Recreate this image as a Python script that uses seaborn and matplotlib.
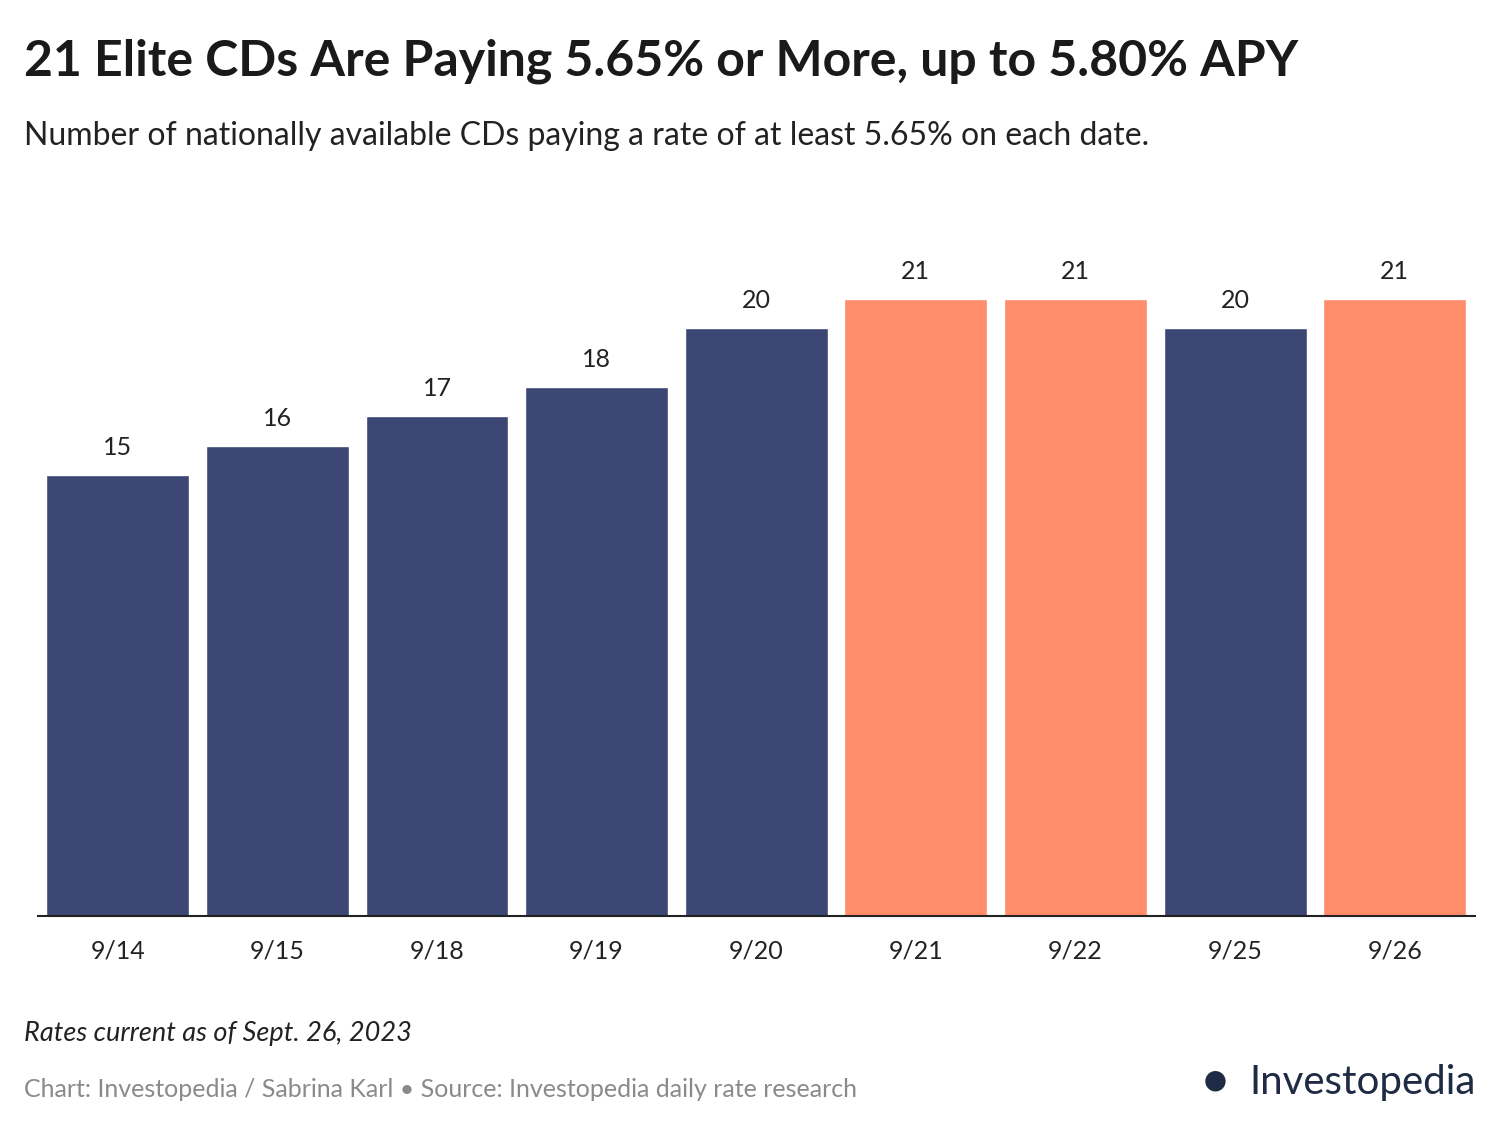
import matplotlib
matplotlib.use("Agg")
import matplotlib.pyplot as plt
import seaborn as sns
import pandas as pd

dates = ["9/14", "9/15", "9/18", "9/19", "9/20", "9/21", "9/22", "9/25", "9/26"]
counts = [15, 16, 17, 18, 20, 21, 21, 20, 21]
highlight = [False, False, False, False, False, True, True, False, True]

sns.set_theme(style="white")
plt.rcParams['font.family'] = ['Lato', 'DejaVu Sans']

df = pd.DataFrame({"date": dates, "count": counts,
                   "grp": ["hi" if h else "lo" for h in highlight]})

fig = plt.figure(figsize=(15, 11.37), dpi=100)
ax = fig.add_axes([0.0253, 0.1944, 0.9577, 0.5945])
sns.barplot(data=df, x="date", y="count", hue="grp", dodge=False,
            palette={"lo": "#3c4773", "hi": "#ff8c6b"}, width=0.895,
            saturation=1, legend=False, ax=ax)
ax.set_xlim(-0.5, 8.5)
ax.set_ylim(0, 23.0)
for i, v in enumerate(counts):
    ax.text(i, v + 0.55, str(v), ha="center", va="bottom", fontsize=18, color="#222222")
ax.set_xlabel("")
ax.set_ylabel("")
ax.set_yticks([])
for s in ["top", "right", "left"]:
    ax.spines[s].set_visible(False)
ax.spines["bottom"].set_color("#222222")
ax.spines["bottom"].set_linewidth(1.5)
ax.tick_params(axis="x", labelsize=18, colors="#222222", pad=17, length=0)

fig.text(0.016, 0.946, "21 Elite CDs Are Paying 5.65% or More, up to 5.80% APY",
         fontsize=36, fontweight="bold", color="#1a1a1a", va="center")
fig.text(0.016, 0.880, "Number of nationally available CDs paying a rate of at least 5.65% on each date.",
         fontsize=23, color="#222222", va="center")
fig.text(0.016, 0.091, "Rates current as of Sept. 26, 2023", fontsize=19.5,
         style="italic", color="#222222", va="center")
fig.text(0.016, 0.042, "Chart: Investopedia / Sabrina Karl \u2022 Source: Investopedia daily rate research",
         fontsize=18, color="#8a8a8a", va="center")
fig.text(0.984, 0.048, "Investopedia", fontsize=29, color="#1f2a44",
         ha="right", va="center")
fig.text(0.810, 0.049, "\u25CF", fontsize=30, color="#1f2a44", ha="center", va="center")
fig.savefig("out.png", dpi=100)
